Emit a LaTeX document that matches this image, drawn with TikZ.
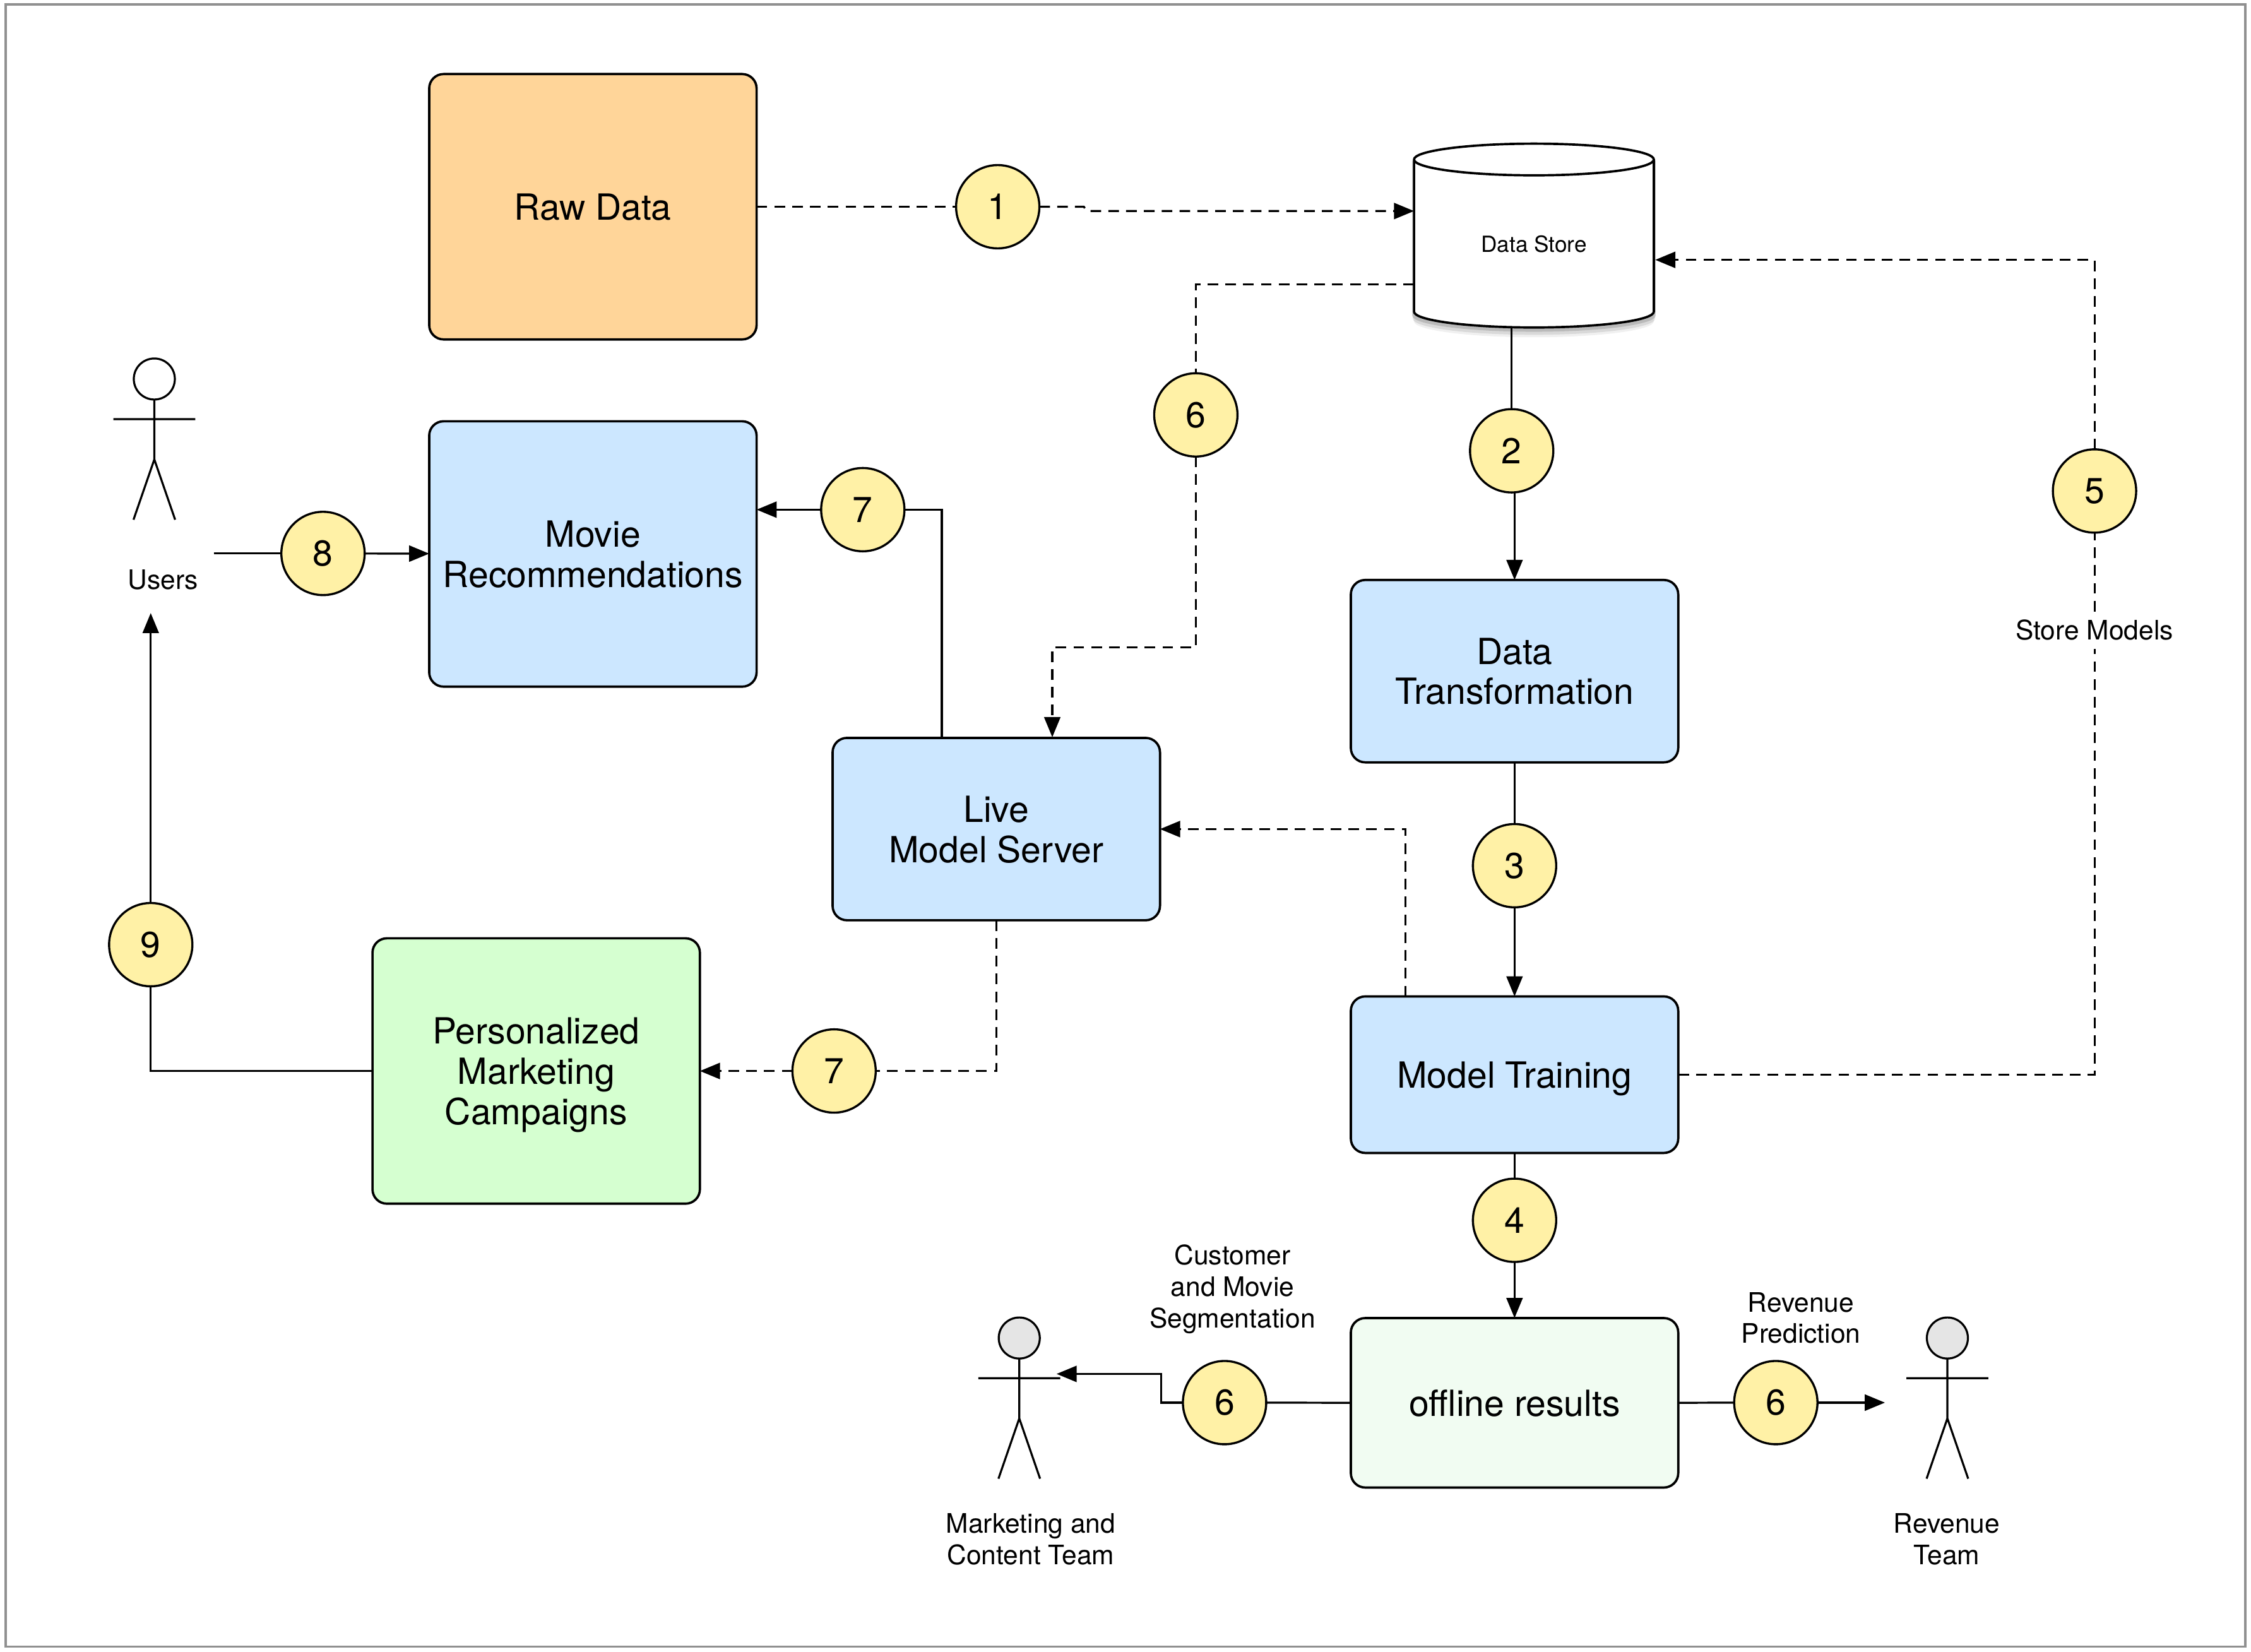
\documentclass[tikz,border=0pt]{standalone}
\usepackage{fontspec}
\setmainfont{TeX Gyre Heros}
\usetikzlibrary{arrows.meta,positioning,shapes.geometric,shadows}
\definecolor{rawfill}{HTML}{FFD599}
\definecolor{stepfill}{HTML}{CCE7FF}
\definecolor{campfill}{HTML}{D5FFD0}
\definecolor{offfill}{HTML}{F1FCF2}
\definecolor{numfill}{HTML}{FFF1A6}
\definecolor{framecol}{HTML}{909090}

\tikzset{
  pics/actor/.style={code={
    \draw[line width=1pt, fill=#1] (0,0) circle[radius=14.3];
    \draw[line width=1pt] (0,14) -- (0,56) (-28.5,28) -- (28.5,28)
      (-14.5,98) -- (0,56) -- (14.5,98);
  }}
}

\begin{document}
\begin{tikzpicture}[
  x=0.025cm, y=-0.025cm,
  font=\fontsize{13.3}{15.6}\selectfont,
  box/.style={rectangle, draw, line width=1.15pt, rounded corners=0.25cm, align=center,
    outer sep=0pt, minimum width=5.7cm, text depth=0pt, font=\fontsize{17.85}{19.9}\selectfont},
  tall/.style={box, minimum height=4.62cm},
  num/.style={circle, draw, line width=1.05pt, fill=numfill, inner sep=0pt, outer sep=0pt,
    minimum size=1.45cm, font=\fontsize{17.85}{20}\selectfont},
  lbl/.style={align=center, inner sep=2pt},
  arr/.style={line width=1pt, -{Triangle[length=3.5mm,width=2.8mm]}},
  lin/.style={line width=1pt},
  dline/.style={line width=1pt, dash pattern=on 0.185cm off 0.125cm},
  darr/.style={arr, dash pattern=on 0.185cm off 0.125cm}
]
\useasboundingbox (0,0) rectangle (1568,1150.7);
\draw[framecol, line width=1.1pt] (4,3) rectangle (1564,1147);

% Left column
\node[tall, fill=rawfill] (rawdata) at (413,144) {Raw Data};
\node[tall, fill=stepfill, below=1.425cm of rawdata] (movierec) {Movie\\Recommendations};
\node[tall, fill=campfill] (campaign) at (373.5,746) {Personalized\\Marketing\\Campaigns};

% Store and pipeline
\node[cylinder, draw, line width=1.15pt, shape border rotate=90, aspect=0.3, fill=white,
  minimum width=4.175cm, minimum height=3.2cm, inner sep=0pt, outer sep=0pt,
  drop shadow={shadow xshift=0cm, shadow yshift=-0.17cm, shadow scale=1.0, opacity=0.12},
  drop shadow={shadow xshift=0cm, shadow yshift=-0.11cm, shadow scale=1.01, opacity=0.2},
  drop shadow={shadow xshift=0cm, shadow yshift=-0.05cm, shadow scale=1.015, opacity=0.35},
  font=\fontsize{11}{13}\selectfont] (store) at (1068.5,170) {Data Store};
\node[box, fill=stepfill, minimum height=3.175cm] (transform) at (1055,467.5) {Data\\Transformation};
\node[box, fill=stepfill, minimum height=2.725cm, below=4.075cm of transform] (training) {Model Training};
\node[box, fill=offfill, minimum height=2.95cm, below=2.875cm of training] (offline) {offline results};
\node[box, fill=stepfill, minimum height=3.175cm] (live) at (694,577.5) {Live\\Model Server};

% Numbers
\node[num] (c1) at (695,144) {1};
\node[num] (c2) at (1053,314) {2};
\node[num] (c3) at (1055,603) {3};
\node[num] (c4) at (1055,850) {4};
\node[num] (c5) at (1459,342) {5};
\node[num] (c6a) at (833,289) {6};
\node[num] (c6b) at (853,977) {6};
\node[num] (c6c) at (1237,977) {6};
\node[num] (c7a) at (601,355) {7};
\node[num] (c7b) at (581,746) {7};
\node[num] (c8) at (225,385.5) {8};
\node[num] (c9) at (105,658) {9};

% Actors
\pic at (107.5,264) {actor=white};
\pic at (710,932) {actor=black!10};
\pic at (1356.5,932) {actor=black!10};

% Labels
\node[lbl] (users) at (113.5,404) {Users};
\node[lbl] (mktteam) at (718,1072) {Marketing and\\Content Team};
\node[lbl] (revteam) at (1356,1072) {Revenue\\Team};
\node[lbl] (segment) at (858.5,898) {Customer\\and Movie\\Segmentation};
\node[lbl] (revpred) at (1254.5,918) {Revenue\\Prediction};
\node[lbl, inner sep=4pt] (storemodels) at (1459,439) {Store Models};

\coordinate (usersout) at (149,385.5);
\coordinate (usersin) at (105,427);
\coordinate (mktin) at (736,957);
\coordinate (revin) at (1313,977);
\coordinate (storein) at (985,147);
\coordinate (storeback) at (1153,181);
\coordinate (storeout) at (985,198);
\coordinate (liveturn) at (733,451);
\coordinate (livein) at (733,513.5);
\coordinate (liveout) at (656,514);
\coordinate (trainout) at (979,694);
\coordinate (resturn) at (809,977);

% Top row
\draw[dline] (rawdata) -- (c1);
\draw[darr] (c1.east) -- +(31,0) -- +(33,3) -- (storein);

% Main pipeline
\draw[lin] (c2 |- store.south) -- (c2);
\draw[arr] (c2.south -| transform.north) -- (transform.north);
\draw[lin] (transform) -- (c3);
\draw[arr] (c3) -- (training);
\draw[lin] (training) -- (c4);
\draw[arr] (c4) -- (offline);

% Store models
\draw[dline] (training.east) -| (storemodels.south);
\draw[dline] (storemodels.north) -- (c5.south);
\draw[darr] (c5.north) |- (storeback);

% Serving
\draw[dline] (storeout) -| (c6a.north);
\draw[darr] (c6a.south) |- (liveturn) -- (livein);
\draw[darr] (trainout) |- (live.east);
\draw[lin] (liveout) |- (c7a.east);
\draw[arr] (c7a) -- (c7a -| movierec.east);
\draw[dline] (live.south) |- (c7b.east);
\draw[darr] (c7b) -- (campaign.east);

% Users
\draw[lin] (usersout) -- (c8);
\draw[arr] (c8) -- (movierec);
\draw[lin] (campaign.west) -| (c9.south);
\draw[arr] (c9.north) -- (usersin);

% Results
\draw[lin] (offline.west) -- (c6b.east);
\draw[arr] (c6b.west) -- (resturn) |- (mktin);
\draw[lin] (offline.east) -- (c6c.west);
\draw[arr] (c6c) -- (revin);
\end{tikzpicture}
\end{document}
